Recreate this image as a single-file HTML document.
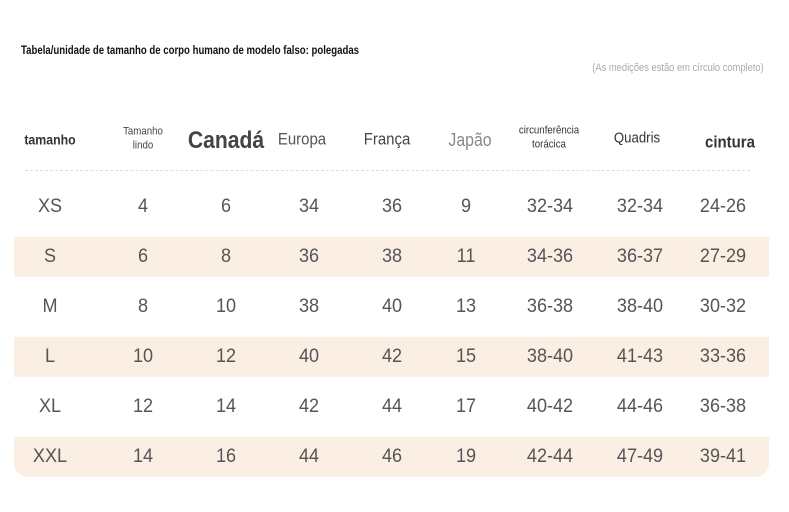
<!DOCTYPE html>
<html><head><meta charset="utf-8">
<style>
body{margin:0;width:789px;height:512px;background:#fff;overflow:hidden;position:relative;font-family:"Liberation Sans",sans-serif}
.abs{position:absolute;white-space:nowrap}
.cond{font-family:"Liberation Sans Narrow","Liberation Sans",sans-serif}
.band{position:absolute;left:14px;width:755px;height:40px;background:#fbeee3}
.cell{position:absolute;transform:translate(-50%,-50%) scaleX(.95);font-size:19px;color:#555;font-weight:300;white-space:nowrap}
.hd{position:absolute;transform:translate(-50%,-50%) scaleX(.88);text-align:center;line-height:1.25;white-space:nowrap}
</style></head><body>
<div class="abs cond" style="left:21px;top:43px;font-size:12px;color:#111;font-weight:bold;transform:scaleX(.8);transform-origin:left">Tabela/unidade de tamanho de corpo humano de modelo falso: polegadas</div>
<div class="abs cond" style="right:25px;top:62px;font-size:11px;color:#aaa;transform:scaleX(.85);transform-origin:right">(As medições estão em círculo completo)</div>
<div style="position:absolute;left:25px;top:170px;width:725px;border-top:1px dashed #ddd"></div>
<div id="tbl"></div>
<script>
const headers=["tamanho","Tamanho<br>lindo","Canadá","Europa","França","Japão","circunferência<br>torácica","Quadris","cintura"];
const sizes=["XS","S","M","L","XL","XXL"];
const lindo=["4","6","8","10","12","14"];
const canada=["6","8","10","12","14","16"];
const europa=["34","36","38","40","42","44"];
const franca=["36","38","40","42","44","46"];
const japao=["9","11","13","15","17","19"];
const torax=["32-34","34-36","36-38","38-40","40-42","42-44"];
const quadris=["32-34","36-37","38-40","41-43","44-46","47-49"];
const cintura=["24-26","27-29","30-32","33-36","36-38","39-41"];
const cols=[sizes,lindo,canada,europa,franca,japao,torax,quadris,cintura];
const colX=[50,143,226,302,387,470,549,637,730];
const hStyle=[[14,"#333",600],[11,"#444",400],[24,"#444",600],[17,"#555",400],[17,"#444",500],[18,"#888",400],[11,"#333",400],[15,"#333",500],[17,"#333",600]];
const hY=[140,139,141,139,139,140,138,139,142];
const rowY=r=>207+r*50;
const cellX=[50,143,226,309,392,466,550,640,723];
const root=document.getElementById('tbl');
for(let r=0;r<sizes.length;r++){
 if(r%2===1){
  const b=document.createElement('div');b.className='band';
  
  
  b.style.top=(rowY(r)-20)+'px';
  if(r===sizes.length-1)b.style.borderRadius='0 0 14px 14px';
  root.appendChild(b);
 }
}
headers.forEach((h,i)=>{
 const d=document.createElement('div');d.className='hd cond';
 
 
 d.innerHTML=h;d.style.left=colX[i]+'px';d.style.top=hY[i]+'px';
 d.style.fontSize=hStyle[i][0]+'px';d.style.color=hStyle[i][1];d.style.fontWeight=hStyle[i][2];
 root.appendChild(d);
});
cols.forEach((col,c)=>col.forEach((v,r)=>{
 const d=document.createElement('div');d.className='cell';
 
 
 d.textContent=v;d.style.left=cellX[c]+'px';d.style.top=rowY(r)+'px';
 root.appendChild(d);
}));
</script>
</body></html>
